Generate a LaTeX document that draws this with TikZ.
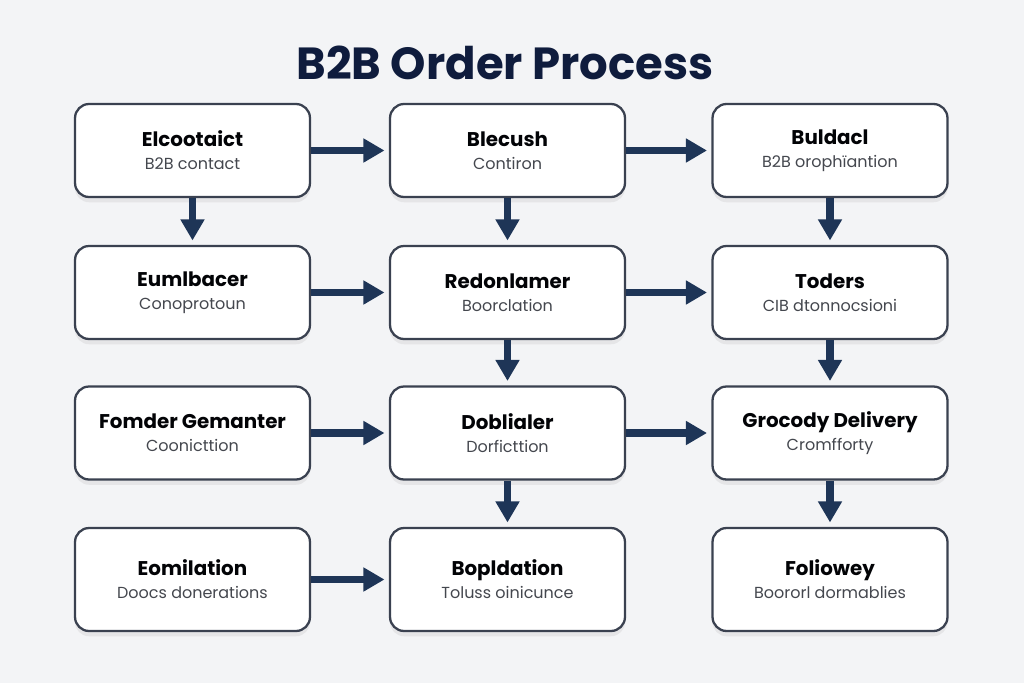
\documentclass[tikz,border=0pt]{standalone}
\usepackage{fontspec}
\setmainfont{Poppins}
\usetikzlibrary{arrows.meta, shadows}

\definecolor{bgcol}{HTML}{F3F4F6}
\definecolor{navy}{HTML}{1E3557}
\definecolor{titlecol}{HTML}{0F1C3D}
\definecolor{edgecol}{HTML}{3A4150}
\definecolor{subcol}{HTML}{44474E}

\tikzset{
  stage/.style={draw=edgecol, line width=1.3pt, fill=white, rounded corners=8pt,
    minimum width=4.7cm, minimum height=1.86cm, align=center,
    drop shadow={shadow xshift=0pt, shadow yshift=-3pt, opacity=0.12}},
  flow/.style={navy, line width=4pt, -{Triangle[length=12pt,width=13pt]}, shorten >=2.5pt},
}
\newcommand{\stagetxt}[2]{{\fontsize{11.3}{14}\selectfont\bfseries\color{black!90!titlecol}#1}\\[1pt]{\fontsize{9.1}{11}\selectfont\color{subcol}#2}}

\begin{document}
\begin{tikzpicture}[x=0.02cm, y=-0.02cm]
  % fondo
  \fill[bgcol] (0,0) rectangle (1024,683);
  \useasboundingbox (0,0) rectangle (1024,683);

  % titolo
  \node[font=\fontsize{25.6}{30}\selectfont\bfseries, text=titlecol] (title) at (505,63) {B2B Order Process};

  % riquadri
  \node[stage] (a1) at (192.5,150.5) {\stagetxt{Elcootaict}{B2B contact}};
  \node[stage] (a2) at (507.5,150.5) {\stagetxt{Blecush}{Contiron}};
  \node[stage] (a3) at (830,150.5) {\stagetxt{Buldacl}{B2B orophïantion}};

  \node[stage] (b1) at (192.5,292.5) {\stagetxt{Eumlbacer}{Conoprotoun}};
  \node[stage] (b2) at (507.5,292.5) {\stagetxt{Redonlamer}{Boorclation}};
  \node[stage] (b3) at (830,292.5) {\stagetxt{Toders}{CIB dtonnocsioni}};

  \node[stage] (c1) at (192.5,433) {\stagetxt{Fomder Gemanter}{Coonicttion}};
  \node[stage] (c2) at (507.5,433) {\stagetxt{Doblialer}{Dorficttion}};
  \node[stage] (c3) at (830,433) {\stagetxt{Grocody Delivery}{Cromfforty}};

  \node[stage, minimum height=2.06cm] (d1) at (192.5,579.5) {\stagetxt{Eomilation}{Doocs donerations}};
  \node[stage, minimum height=2.06cm] (d2) at (507.5,579.5) {\stagetxt{Bopldation}{Toluss oinicunce}};
  \node[stage, minimum height=2.06cm] (d3) at (830,579.5) {\stagetxt{Foliowey}{Boororl dormablies}};

  % frecce orizzontali
  \draw[flow] (a1) -- (a2);
  \draw[flow] (a2) -- (a3);
  \draw[flow] (b1) -- (b2);
  \draw[flow] (b2) -- (b3);
  \draw[flow] (c1) -- (c2);
  \draw[flow] (c2) -- (c3);
  \draw[flow] (d1) -- (d2);

  % frecce verticali
  \draw[flow] (a1) -- (b1);
  \draw[flow] (a2) -- (b2);
  \draw[flow] (a3) -- (b3);
  \draw[flow] (b2) -- (c2);
  \draw[flow] (b3) -- (c3);
  \draw[flow] (c2) -- (d2);
  \draw[flow] (c3) -- (d3);
\end{tikzpicture}
\end{document}
